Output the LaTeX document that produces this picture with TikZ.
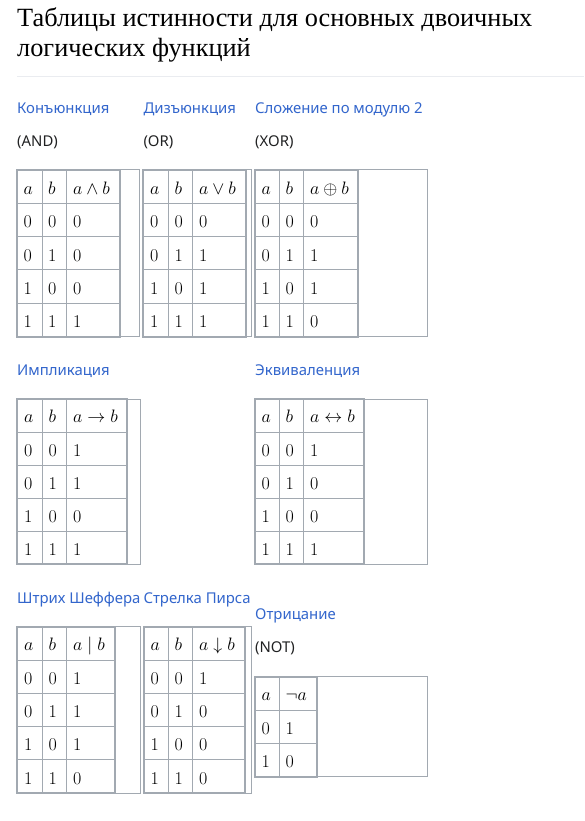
\documentclass[tikz,border=0pt]{standalone}
\usepackage{fix-cm}
\usepackage{amsmath}
\usepackage{amssymb}
\usepackage[no-math]{fontspec}
\setmainfont{Liberation Serif}
\newfontfamily\labelfont{Noto Sans}
\usepackage{tikz}
\usetikzlibrary{positioning,calc}
\definecolor{wikiblue}{HTML}{3366CC}
\definecolor{wikitext}{HTML}{202122}
\definecolor{wikiborder}{HTML}{A2A9B1}
\definecolor{wikirule}{HTML}{EAECF0}

\begin{document}
\begin{tikzpicture}[x=1pt,y=-1pt]
        \tikzstyle{every node}=[inner sep=0pt,anchor=base west]
        \tikzstyle{cell}=[font=\fontsize{18}{20}\selectfont]
        \tikzstyle{fname}=[text=wikiblue,font=\labelfont\fontsize{14.9}{17}\selectfont]
        \tikzstyle{fcode}=[text=wikitext,font=\labelfont\fontsize{14.9}{17}\selectfont]
        \tikzstyle{wrap}=[draw=wikiborder,line width=1pt]
        \tikzstyle{grid}=[draw=wikiborder,line width=1pt]
        \tikzstyle{frame}=[draw=wikiborder,line width=2pt]
        \useasboundingbox (0,0) rectangle (584,821);

        %%% Heading
        \node[text=black,font=\fontsize{26.3}{30}\selectfont] (title1) at (17,26.7) {Таблицы истинности для основных двоичных};
        \node[text=black,font=\fontsize{26.3}{30}\selectfont] (title2) at (17,56.7) {логических функций};
        \draw[wikirule,line width=1pt] (17,76.5) -- (584,76.5);

        %%% Names
        \node[fname] (lbland) at (17,113.3) {Конъюнкция};
        \node[fname] (lblor) at (143.3,113.3) {Дизъюнкция};
        \node[fname] (lblxor) at (255,113.3) {Сложение по модулю 2};
        \node[fcode] (codeand) at (17,147) {(AND)};
        \node[fcode] (codeor) at (143.3,147) {(OR)};
        \node[fcode] (codexor) at (255,147) {(XOR)};
        \node[fname] (lblimp) at (17,375) {Импликация};
        \node[fname] (lbleqv) at (255,375) {Эквиваленция};
        \node[fname] (lblshef) at (17,603.5) {Штрих Шеффера};
        \node[fname] (lblpierce) at (143.3,603.5) {Стрелка Пирса};
        \node[fname] (lblnot) at (255,619) {Отрицание};
        \node[fcode] (codenot) at (255,652) {(NOT)};

        %%% AND
        \begin{scope}[shift={(17,170)}]
            \draw[wrap] (0,0) rectangle (122.5,166.5);
            \draw[grid] (0,33.3) -- (103,33.3) (0,66.6) -- (103,66.6) (0,99.9) -- (103,99.9) (0,133.2) -- (103,133.2);
            \draw[grid] (25.3,0) -- (25.3,166.5) (49.7,0) -- (49.7,166.5);
            \draw[frame] (0,0) rectangle (103,166.5);
            \node[cell] (and1a) at (6.5,24) {$a$}; \node[cell] (and1b) at (31,24) {$b$}; \node[cell] (and1f) at (56,24) {$a\wedge b$};
            \node[cell] (and2a) at (6.5,57.8) {$0$}; \node[cell] (and2b) at (31,57.8) {$0$}; \node[cell] (and2f) at (56,57.8) {$0$};
            \node[cell] (and3a) at (6.5,91.1) {$0$}; \node[cell] (and3b) at (31,91.1) {$1$}; \node[cell] (and3f) at (56,91.1) {$0$};
            \node[cell] (and4a) at (6.5,124.4) {$1$}; \node[cell] (and4b) at (31,124.4) {$0$}; \node[cell] (and4f) at (56,124.4) {$0$};
            \node[cell] (and5a) at (6.5,157.7) {$1$}; \node[cell] (and5b) at (31,157.7) {$1$}; \node[cell] (and5f) at (56,157.7) {$1$};
        \end{scope}

        %%% OR
        \begin{scope}[shift={(143.3,170)}]
            \draw[wrap] (0,0) rectangle (107.7,166.5);
            \draw[grid] (0,33.3) -- (102.4,33.3) (0,66.6) -- (102.4,66.6) (0,99.9) -- (102.4,99.9) (0,133.2) -- (102.4,133.2);
            \draw[grid] (25,0) -- (25,166.5) (49,0) -- (49,166.5);
            \draw[frame] (0,0) rectangle (102.4,166.5);
            \node[cell] (or1a) at (6.5,24) {$a$}; \node[cell] (or1b) at (31,24) {$b$}; \node[cell] (or1f) at (55.5,24) {$a\vee b$};
            \node[cell] (or2a) at (6.5,57.8) {$0$}; \node[cell] (or2b) at (31,57.8) {$0$}; \node[cell] (or2f) at (55.5,57.8) {$0$};
            \node[cell] (or3a) at (6.5,91.1) {$0$}; \node[cell] (or3b) at (31,91.1) {$1$}; \node[cell] (or3f) at (55.5,91.1) {$1$};
            \node[cell] (or4a) at (6.5,124.4) {$1$}; \node[cell] (or4b) at (31,124.4) {$0$}; \node[cell] (or4f) at (55.5,124.4) {$1$};
            \node[cell] (or5a) at (6.5,157.7) {$1$}; \node[cell] (or5b) at (31,157.7) {$1$}; \node[cell] (or5f) at (55.5,157.7) {$1$};
        \end{scope}

        %%% XOR
        \begin{scope}[shift={(255,170)}]
            \draw[wrap] (0,0) rectangle (172,166.5);
            \draw[grid] (0,33.3) -- (103.3,33.3) (0,66.6) -- (103.3,66.6) (0,99.9) -- (103.3,99.9) (0,133.2) -- (103.3,133.2);
            \draw[grid] (24.3,0) -- (24.3,166.5) (48.3,0) -- (48.3,166.5);
            \draw[frame] (0,0) rectangle (103.3,166.5);
            \node[cell] (xor1a) at (6.5,24) {$a$}; \node[cell] (xor1b) at (30.5,24) {$b$}; \node[cell] (xor1f) at (55,24) {$a\oplus b$};
            \node[cell] (xor2a) at (6.5,57.8) {$0$}; \node[cell] (xor2b) at (30.5,57.8) {$0$}; \node[cell] (xor2f) at (55,57.8) {$0$};
            \node[cell] (xor3a) at (6.5,91.1) {$0$}; \node[cell] (xor3b) at (30.5,91.1) {$1$}; \node[cell] (xor3f) at (55,91.1) {$1$};
            \node[cell] (xor4a) at (6.5,124.4) {$1$}; \node[cell] (xor4b) at (30.5,124.4) {$0$}; \node[cell] (xor4f) at (55,124.4) {$1$};
            \node[cell] (xor5a) at (6.5,157.7) {$1$}; \node[cell] (xor5b) at (30.5,157.7) {$1$}; \node[cell] (xor5f) at (55,157.7) {$0$};
        \end{scope}

        %%% Implication
        \begin{scope}[shift={(17.3,399)}]
            \draw[wrap] (0,0) rectangle (122.7,165.3);
            \draw[grid] (0,33.1) -- (110,33.1) (0,66.1) -- (110,66.1) (0,99.2) -- (110,99.2) (0,132.2) -- (110,132.2);
            \draw[grid] (25,0) -- (25,165.3) (49.4,0) -- (49.4,165.3);
            \draw[frame] (0,0) rectangle (110,165.3);
            \node[cell] (imp1a) at (6.5,23.8) {$a$}; \node[cell] (imp1b) at (31,23.8) {$b$}; \node[cell] (imp1f) at (55.5,23.8) {$a\rightarrow b$};
            \node[cell] (imp2a) at (6.5,57.4) {$0$}; \node[cell] (imp2b) at (31,57.4) {$0$}; \node[cell] (imp2f) at (55.5,57.4) {$1$};
            \node[cell] (imp3a) at (6.5,90.4) {$0$}; \node[cell] (imp3b) at (31,90.4) {$1$}; \node[cell] (imp3f) at (55.5,90.4) {$1$};
            \node[cell] (imp4a) at (6.5,123.5) {$1$}; \node[cell] (imp4b) at (31,123.5) {$0$}; \node[cell] (imp4f) at (55.5,123.5) {$0$};
            \node[cell] (imp5a) at (6.5,156.5) {$1$}; \node[cell] (imp5b) at (31,156.5) {$1$}; \node[cell] (imp5f) at (55.5,156.5) {$1$};
        \end{scope}

        %%% Equivalence
        \begin{scope}[shift={(255,399)}]
            \draw[wrap] (0,0) rectangle (172,165.3);
            \draw[grid] (0,33.1) -- (109,33.1) (0,66.1) -- (109,66.1) (0,99.2) -- (109,99.2) (0,132.2) -- (109,132.2);
            \draw[grid] (24.3,0) -- (24.3,165.3) (48.3,0) -- (48.3,165.3);
            \draw[frame] (0,0) rectangle (109,165.3);
            \node[cell] (eqv1a) at (6.5,23.8) {$a$}; \node[cell] (eqv1b) at (30.5,23.8) {$b$}; \node[cell] (eqv1f) at (55,23.8) {$a\leftrightarrow b$};
            \node[cell] (eqv2a) at (6.5,57.4) {$0$}; \node[cell] (eqv2b) at (30.5,57.4) {$0$}; \node[cell] (eqv2f) at (55,57.4) {$1$};
            \node[cell] (eqv3a) at (6.5,90.4) {$0$}; \node[cell] (eqv3b) at (30.5,90.4) {$1$}; \node[cell] (eqv3f) at (55,90.4) {$0$};
            \node[cell] (eqv4a) at (6.5,123.5) {$1$}; \node[cell] (eqv4b) at (30.5,123.5) {$0$}; \node[cell] (eqv4f) at (55,123.5) {$0$};
            \node[cell] (eqv5a) at (6.5,156.5) {$1$}; \node[cell] (eqv5b) at (30.5,156.5) {$1$}; \node[cell] (eqv5f) at (55,156.5) {$1$};
        \end{scope}

        %%% Sheffer stroke
        \begin{scope}[shift={(17.3,626.7)}]
            \draw[wrap] (0,0) rectangle (123.4,166.3);
            \draw[grid] (0,33.3) -- (97.7,33.3) (0,66.5) -- (97.7,66.5) (0,99.8) -- (97.7,99.8) (0,133) -- (97.7,133);
            \draw[grid] (25,0) -- (25,166.3) (49.4,0) -- (49.4,166.3);
            \draw[frame] (0,0) rectangle (97.7,166.3);
            \node[cell] (shef1a) at (6.5,24) {$a$}; \node[cell] (shef1b) at (31,24) {$b$}; \node[cell] (shef1f) at (55.5,24) {$a\mid b$};
            \node[cell] (shef2a) at (6.5,57.7) {$0$}; \node[cell] (shef2b) at (31,57.7) {$0$}; \node[cell] (shef2f) at (55.5,57.7) {$1$};
            \node[cell] (shef3a) at (6.5,91) {$0$}; \node[cell] (shef3b) at (31,91) {$1$}; \node[cell] (shef3f) at (55.5,91) {$1$};
            \node[cell] (shef4a) at (6.5,124.2) {$1$}; \node[cell] (shef4b) at (31,124.2) {$0$}; \node[cell] (shef4f) at (55.5,124.2) {$1$};
            \node[cell] (shef5a) at (6.5,157.5) {$1$}; \node[cell] (shef5b) at (31,157.5) {$1$}; \node[cell] (shef5f) at (55.5,157.5) {$0$};
        \end{scope}

        %%% Peirce arrow
        \begin{scope}[shift={(144,626.7)}]
            \draw[wrap] (0,0) rectangle (107.7,166.3);
            \draw[grid] (0,33.3) -- (101,33.3) (0,66.5) -- (101,66.5) (0,99.8) -- (101,99.8) (0,133) -- (101,133);
            \draw[grid] (24.3,0) -- (24.3,166.3) (48.7,0) -- (48.7,166.3);
            \draw[frame] (0,0) rectangle (101,166.3);
            \node[cell] (pierce1a) at (6.5,24) {$a$}; \node[cell] (pierce1b) at (30.5,24) {$b$}; \node[cell] (pierce1f) at (55,24) {$a\downarrow b$};
            \node[cell] (pierce2a) at (6.5,57.7) {$0$}; \node[cell] (pierce2b) at (30.5,57.7) {$0$}; \node[cell] (pierce2f) at (55,57.7) {$1$};
            \node[cell] (pierce3a) at (6.5,91) {$0$}; \node[cell] (pierce3b) at (30.5,91) {$1$}; \node[cell] (pierce3f) at (55,91) {$0$};
            \node[cell] (pierce4a) at (6.5,124.2) {$1$}; \node[cell] (pierce4b) at (30.5,124.2) {$0$}; \node[cell] (pierce4f) at (55,124.2) {$0$};
            \node[cell] (pierce5a) at (6.5,157.5) {$1$}; \node[cell] (pierce5b) at (30.5,157.5) {$1$}; \node[cell] (pierce5f) at (55,157.5) {$0$};
        \end{scope}

        %%% Negation
        \begin{scope}[shift={(255,676.7)}]
            \draw[wrap] (0,0) rectangle (172.3,100);
            \draw[grid] (0,33.3) -- (61.7,33.3) (0,66.7) -- (61.7,66.7);
            \draw[grid] (24.3,0) -- (24.3,100);
            \draw[frame] (0,0) rectangle (61.7,100);
            \node[cell] (not1a) at (6.5,24) {$a$}; \node[cell] (not1f) at (30.5,24) {$\neg a$};
            \node[cell] (not2a) at (6.5,57.8) {$0$}; \node[cell] (not2f) at (30.5,57.8) {$1$};
            \node[cell] (not3a) at (6.5,91.1) {$1$}; \node[cell] (not3f) at (30.5,91.1) {$0$};
        \end{scope}
    \end{tikzpicture}
\end{document}
